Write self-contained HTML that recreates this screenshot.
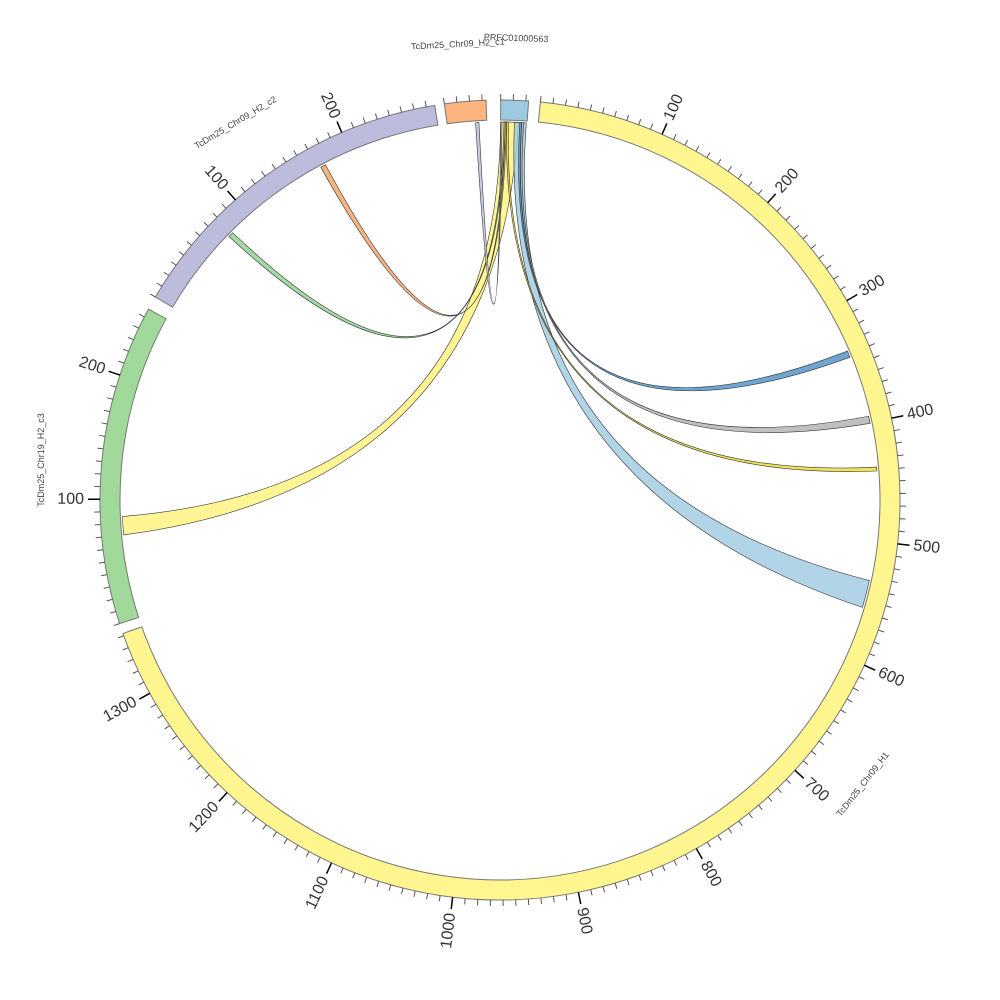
<!DOCTYPE html>
<html><head><meta charset="utf-8"><style>
html,body{margin:0;padding:0;background:#fff;}
svg{display:block;font-family:"Liberation Sans",sans-serif;}
</style></head><body>
<svg id="s" width="1000" height="1000" viewBox="0 0 1000 1000" xmlns="http://www.w3.org/2000/svg"></svg>
<script>
var S=document.getElementById('s'),NS='http://www.w3.org/2000/svg',cx=500,cy=500;
function P(r,t){t=t*Math.PI/180;return [cx+r*Math.sin(t),cy-r*Math.cos(t)];}
function f(p){return p[0].toFixed(2)+','+p[1].toFixed(2);}
function el(n,a,txt){var e=document.createElementNS(NS,n);for(var k in a)e.setAttribute(k,a[k]);if(txt)e.textContent=txt;S.appendChild(e);return e;}
var sc=0.181,R0=380,R1=400;
var segs=[
 {s:5.8,e:250.5,c:'#fff68f',lab:true},
 {s:252,e:298.5,c:'#a1d99b',lab:true},
 {s:300.5,e:350.6,c:'#bcbddc',lab:true},
 {s:352,e:358,c:'#fdb47e',lab:false},
 {s:0.1,e:4.1,c:'#9ecae1',lab:false}
];
var ch=[
 [0.1,2.8,264.7,267.5,'#fff37a'],
 [2.2,4.0,102.3,106.5,'#9ecae1'],
 [3.0,3.3,66.8,67.8,'#4a8fc8'],
 [3.3,3.6,77.2,78.3,'#b0b0b0'],
 [1.0,1.3,85.0,85.6,'#e8dc30'],
 [0.6,0.8,314.2,315.0,'#8fd08f'],
 [0.8,1.0,331.7,332.5,'#f5a060'],
 [356.3,356.8,360.1,360.3,'#bcbddc']
];
var r=378,C='Q498,486 ';
ch.forEach(function(c){
 var d='M'+f(P(r,c[0]))+'A'+r+','+r+' 0 0 1 '+f(P(r,c[1]))+C+f(P(r,c[2]))+'A'+r+','+r+' 0 0 1 '+f(P(r,c[3]))+C+f(P(r,c[0]))+'Z';
 el('path',{d:d,fill:c[4],'fill-opacity':0.8,stroke:'#333','stroke-width':0.6});
});
segs.forEach(function(g){
 var big=(g.e-g.s)>180?1:0;
 var d='M'+f(P(R1,g.s))+'A'+R1+','+R1+' 0 '+big+' 1 '+f(P(R1,g.e))+'L'+f(P(R0,g.e))+'A'+R0+','+R0+' 0 '+big+' 0 '+f(P(R0,g.s))+'Z';
 el('path',{d:d,fill:g.c,stroke:'#777','stroke-width':1});
 var n=Math.floor((g.e-g.s)/sc/10+1e-6);
 for(var i=0;i<=n;i++){
  var t=g.s+i*10*sc;var maj=(i%10==0&&i>0);
  var a=P(R1,t),b=P(R1+(maj?12:6),t);
  el('line',{x1:a[0],y1:a[1],x2:b[0],y2:b[1],stroke:maj?'#000':'#555','stroke-width':maj?1.5:1});
  if(maj&&g.lab){
   var p=P(416,t),rot,anc;
   var tt=((t%360)+360)%360;
   if(tt<180){rot=tt-90;anc='start';}else{rot=tt+90;anc='end';}
   el('text',{x:p[0],y:p[1],'font-size':16,fill:'#333','text-anchor':anc,'dominant-baseline':'central',transform:'rotate('+rot+' '+p[0]+' '+p[1]+')'},String(i*10));
  }
 }
});
function lab(x,y,rot,t){el('text',{x:x,y:y,'font-size':9,fill:'#444','text-anchor':'middle',transform:'rotate('+rot+' '+x+' '+y+')'},t);}
lab(865,786,-52,'TcDm25_Chr09_H1');
lab(44,460,-90,'TcDm25_Chr19_H2_c3');
lab(237,125,-31,'TcDm25_Chr09_H2_c2');
lab(458,47,-3,'TcDm25_Chr09_H2_c1');
lab(516,41,2,'PRFC01000563');
</script>
</body></html>
